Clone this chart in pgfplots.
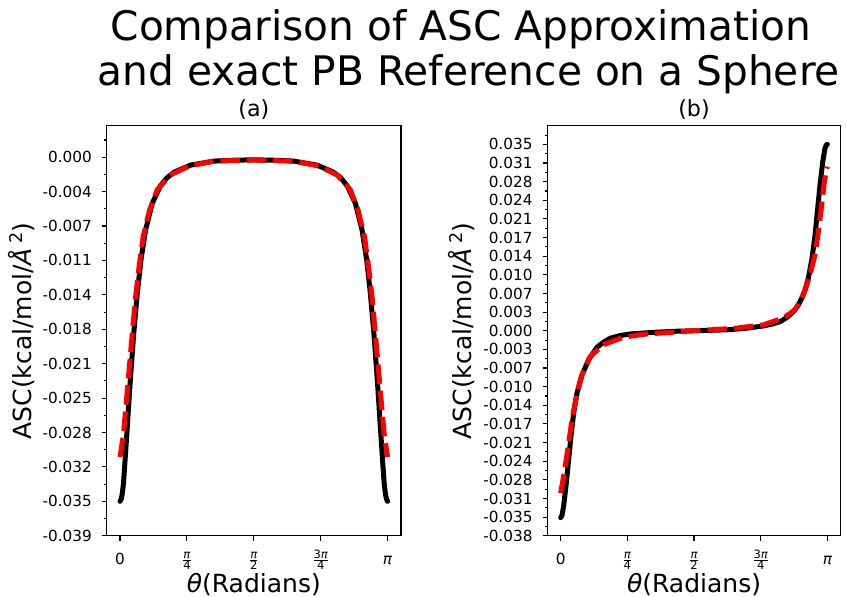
\documentclass[border=0pt]{standalone}
\usepackage{fontspec}
\setmainfont{DejaVu Sans}
\usepackage{pgfplots}
\pgfplotsset{compat=1.18}

\newcommand{\fr}[2]{\ensuremath{\frac{\hbox{\fontsize{8.3}{9}\selectfont #1}}{\hbox{\fontsize{8.3}{9}\selectfont #2}}}}

\pgfplotsset{
  panel/.style={
    scale only axis, height=295.2pt,
    xmin=-0.1571, xmax=3.2987, ymin=-0.0385,
    tick pos=left, tick align=outside,
    major tick length=3.5pt, minor tick length=2pt,
    tick style={line width=0.8pt, black},
    axis line style={line width=0.8pt},
    xtick={0,0.785398,1.570796,2.356194,3.141593},
    xticklabels={0,\fr{\itshape π}{4},\fr{\itshape π}{2},\fr{3\itshape π}{4},{\itshape π}},
    tick label style={font=\fontsize{11}{13}\selectfont},
    xticklabel style={anchor=base, yshift=-17pt},
    yticklabel style={anchor=base east, inner sep=0pt, xshift=-7pt, yshift=-4pt},
    scaled y ticks=false,
    xlabel={{\itshape θ}(Radians)},
    ylabel={ASC(kcal/mol/{\itshape Å}\,\textsuperscript{2})},
    label style={font=\fontsize{18}{21}\selectfont},
    xlabel style={at={(axis description cs:0.5,-0.1396)}, anchor=base},
    every axis title shift=0pt,
    title style={font=\fontsize{16}{19}\selectfont, at={(axis description cs:0.5,1.022)}, anchor=base},
  },
  exact/.style={black, line width=3.6pt, line join=round, line cap=round},
  approx/.style={red, line width=3.6pt, line join=round, dash pattern=on 14pt off 5pt},
}

\begin{document}
\begin{tikzpicture}
\path[use as bounding box] (0,0) rectangle (609.84pt,429.84pt);

\node[anchor=base, font=\fontsize{29.3}{35}\selectfont] at (331.9pt,401pt) {Comparison of ASC Approximation};
\node[anchor=base, font=\fontsize{29.3}{35}\selectfont] at (337.5pt,368.6pt) {and exact PB Reference on a Sphere};

% (a)
\begin{axis}[panel, at={(76.8pt,44.1pt)}, anchor=south west, width=211.9pt,
  ymax=0.0032, title={(a)},
  ytick={-0.0385,-0.035,-0.0315,-0.028,-0.0245,-0.021,-0.0175,-0.014,-0.0105,-0.007,-0.0035,0},
  yticklabels={-0.039,-0.035,-0.032,-0.028,-0.025,-0.021,-0.018,-0.014,-0.011,-0.007,-0.004,0.000},
  minor ytick={-0.03675,-0.03325,-0.02975,-0.02625,-0.02275,-0.01925,-0.01575,-0.01225,-0.00875,-0.00525,-0.00175,0.00175},
  ylabel style={at={(axis description cs:-0.2548,0.5)}, anchor=base},
]
\addplot[exact] coordinates {
(0,-0.0350) (0.012,-0.0348) (0.025,-0.0343) (0.040,-0.0332) (0.060,-0.0307)
(0.080,-0.0281) (0.118,-0.0230) (0.161,-0.0179) (0.203,-0.0138) (0.2455,-0.01045)
(0.300,-0.0074) (0.378,-0.0047) (0.475,-0.0029) (0.55,-0.0021) (0.64,-0.0015) (0.83,-0.0008)
(1.1,-0.0004) (1.35,-0.0003) (1.5708,-0.00027) (1.7916,-0.0003) (2.0416,-0.0004)
(2.3116,-0.0008) (2.5016,-0.0015) (2.5916,-0.0021) (2.6666,-0.0029) (2.7636,-0.0047) (2.8416,-0.0074)
(2.8961,-0.01045) (2.9386,-0.0138) (2.9806,-0.0179) (3.0236,-0.0230) (3.0616,-0.0281)
(3.0816,-0.0307) (3.1016,-0.0332) (3.1166,-0.0343) (3.1296,-0.0348) (3.1416,-0.0350)
};
\addplot[approx] coordinates {
(0,-0.0305) (0.041,-0.0281) (0.086,-0.0237) (0.134,-0.0189) (0.179,-0.0145)
(0.224,-0.0111) (0.271,-0.0081) (0.346,-0.0054) (0.438,-0.0033) (0.594,-0.0018)
(0.81,-0.0009) (1.1,-0.0004) (1.5708,-0.0003) (2.0416,-0.0004) (2.3316,-0.0009)
(2.5476,-0.0018) (2.7036,-0.0033) (2.7956,-0.0054) (2.8706,-0.0081) (2.9176,-0.0111)
(2.9626,-0.0145) (3.0076,-0.0189) (3.0556,-0.0237) (3.1006,-0.0281) (3.1416,-0.0305)
};
\end{axis}

% (b)
\begin{axis}[panel, at={(394.1pt,44.1pt)}, anchor=south west, width=211.2pt,
  ymax=0.0385, title={(b)},
  ytick={-0.0385,-0.035,-0.0315,-0.028,-0.0245,-0.021,-0.0175,-0.014,-0.0105,-0.007,-0.0035,0,0.0035,0.007,0.0105,0.014,0.0175,0.021,0.0245,0.028,0.0315,0.035},
  yticklabels={-0.038,-0.035,-0.031,-0.028,-0.024,-0.021,-0.017,-0.014,-0.010,-0.007,-0.003,0.000,0.003,0.007,0.010,0.014,0.017,0.021,0.024,0.028,0.031,0.035},
  minor ytick={-0.03675,-0.03325,-0.02975,-0.02625,-0.02275,-0.01925,-0.01575,-0.01225,-0.00875,-0.00525,-0.00175,0.00175,0.00525,0.00875,0.01225,0.01575,0.01925,0.02275,0.02625,0.02975,0.03325,0.03675},
  ylabel style={at={(axis description cs:-0.258,0.5)}, anchor=base},
]
\addplot[exact] coordinates {
(0,-0.0351) (0.015,-0.0347) (0.035,-0.0329) (0.066,-0.0286) (0.094,-0.0242)
(0.121,-0.0198) (0.153,-0.0154) (0.192,-0.0117) (0.251,-0.0083) (0.33,-0.0054)
(0.428,-0.0031) (0.50,-0.0022) (0.585,-0.0014) (0.70,-0.0009) (0.82,-0.0006) (1.096,-0.0003) (1.35,-0.0001)
(1.571,0.0000) (1.8,0.0001) (1.995,0.0002) (2.2,0.0005) (2.387,0.0009)
(2.50,0.0013) (2.584,0.0017) (2.665,0.0025) (2.741,0.0036) (2.795,0.0047) (2.840,0.0061) (2.882,0.0078) (2.918,0.0099) (2.961,0.0136)
(2.997,0.0180) (3.024,0.0224) (3.055,0.0274) (3.087,0.0317) (3.114,0.0343)
(3.13,0.0349) (3.1416,0.0350)
};
\addplot[approx] coordinates {
(0,-0.0305) (0.025,-0.0282) (0.054,-0.0254) (0.094,-0.0211) (0.133,-0.0167)
(0.192,-0.0117) (0.251,-0.0083) (0.349,-0.0048) (0.507,-0.0026) (0.742,-0.0012)
(1.017,-0.0006) (1.3,-0.0003) (1.571,0.0000) (1.8,0.0002) (2.074,0.0005)
(2.387,0.0011) (2.623,0.0024) (2.761,0.0039) (2.860,0.0068) (2.938,0.0105)
(2.997,0.0143) (3.036,0.0186) (3.075,0.0236) (3.102,0.0274) (3.125,0.0298)
(3.1416,0.0308)
};
\end{axis}
\end{tikzpicture}
\end{document}
